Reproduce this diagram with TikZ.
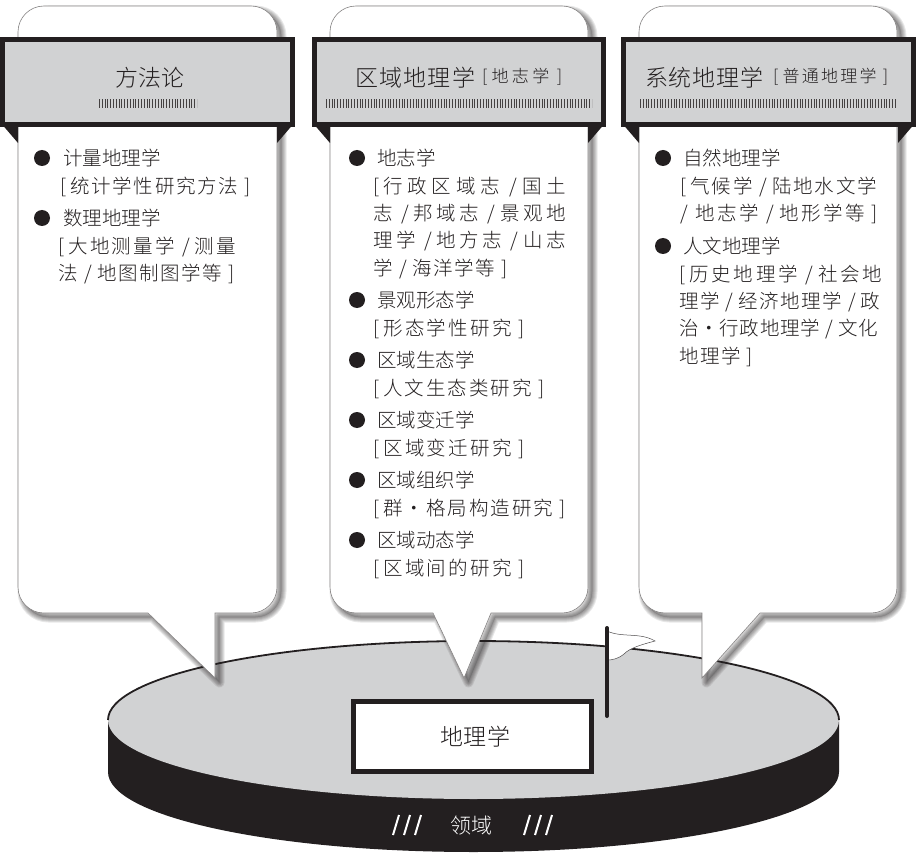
\documentclass[tikz,border=0pt]{standalone}
\usepackage{fontspec}
\setmainfont{Noto Sans CJK SC Light}
\newfontfamily\cjk{Noto Sans CJK SC Light}
\usetikzlibrary{calc}
\definecolor{ink}{HTML}{231F20}
\definecolor{panel}{HTML}{D1D2D3}
\newcommand{\jl}[2]{\makebox[#1pt][s]{\spaceskip=0pt plus 1fil\relax #2}}
\newcommand{\lbk}{[\hspace{4pt}}
\newcommand{\rbk}{\hspace{4pt}]}
\newcommand{\sepr}{\hspace{5pt}/\hspace{5pt}}
\tikzset{
 x=1pt,y=-1pt,
 bodytext/.style={font=\fontsize{19.5}{27.4}\selectfont\cjk,text=ink,inner sep=0pt,anchor=north west,align=left},
 titletext/.style={font=\fontsize{23}{28}\selectfont\cjk,text=ink,inner sep=0pt},
 subtext/.style={font=\fontsize{17}{20}\selectfont\cjk,text=ink,inner sep=0pt},
 bulletdot/.style={circle,fill=ink,inner sep=0pt,minimum size=16pt},
 callout/.style={fill=white,draw=ink!55,line width=.6pt},
 banner/.style={fill=panel,draw=ink,line width=5pt,miter limit=10},
 foldtip/.style={fill=ink,draw=none},
 ticks/.style={draw=ink!85,line width=9pt,dash pattern=on 1pt off 1.8pt,line cap=butt},
}
\newcommand{\calloutshape}[6]{% left,right,base1,tipx,base2,tipy
 (#1,32) arc[start angle=180,end angle=270,radius=26] -- (#2-26,6) arc[start angle=270,end angle=360,radius=26]
 -- (#2,587) arc[start angle=0,end angle=90,radius=26] -- (#5,613) -- (#4,#6) -- (#3,613)
 -- (#1+26,613) arc[start angle=90,end angle=180,radius=26] -- cycle}
\newcommand{\softshadow}[6]{%
 \fill[ink,opacity=.18,shift={(4.5,4.5)}] \calloutshape{#1}{#2}{#3}{#4}{#5}{#6};
 \foreach \w in {10,8,6,4,2}{
  \draw[ink,draw opacity=.10,line width=\w pt,line join=round,shift={(4.5,4.5)}] \calloutshape{#1}{#2}{#3}{#4}{#5}{#6};
 }}
\begin{document}
\begin{tikzpicture}
\useasboundingbox (0,0) rectangle (916,853);
\fill[white] (0,0) rectangle (916,853);
% disc
\fill[ink] (108,720) -- (108,772) arc[start angle=180,end angle=0,x radius=365.5,y radius=80] -- (839,720) -- cycle;
\fill[panel] (473.5,720) ellipse[x radius=365.5,y radius=79];
\draw[ink,line width=1.8pt] (108,720) arc[start angle=180,end angle=360,x radius=365.5,y radius=79];
% callouts
\softshadow{18}{277}{148}{215}{215}{678}
\softshadow{330}{588}{433}{464}{491}{678}
\softshadow{639}{897}{702}{702}{760}{678}
\draw[callout] \calloutshape{18}{277}{148}{215}{215}{678};
\draw[callout] \calloutshape{330}{588}{433}{464}{491}{678};
\draw[callout] \calloutshape{639}{897}{702}{702}{760}{678};
% banners
\foreach \l/\r in {0/295,312/606,621/916}{
 \fill[foldtip] (\l,122) -- (\l+18,143) -- (\l+18,122) -- cycle;
 \fill[foldtip] (\r,122) -- (\r-18,143) -- (\r-18,122) -- cycle;
 \draw[banner] (\l+2.5,39.5) rectangle (\r-2.5,124.5);
}
\node[titletext] (t1) at (149,78) {\jl{68}{方 法 论}};
\node[titletext,anchor=west] (t2) at (355,78) {\jl{120}{区 域 地 理 学}};
\node[subtext,anchor=west] (t2b) at (482,77) {\jl{80}{\lbk 地 志 学 \rbk}};
\node[titletext,anchor=west] (t3) at (645,78) {\jl{118}{系 统 地 理 学}};
\node[subtext,anchor=west] (t3b) at (773,77) {\jl{115}{\lbk 普 通 地 理 学 \rbk}};
\draw[ticks] (99,103.5) -- (197,103.5);
\draw[ticks] (326,103.5) -- (592,103.5);
\draw[ticks] (640,103.5) -- (897,103.5);
% column 1
\node[bulletdot] (b11) at (42,158) {};
\node[bodytext] (x11) at (60,149) {\hspace*{3pt}计量地理学\\\jl{190}{\lbk 统 计 学 性 研 究 方 法 \rbk}};
\node[bulletdot] (b12) at (42,218) {};
\node[bodytext] (x12) at (58,209) {\hspace*{5pt}数理地理学\\\jl{178}{\lbk 大 地 测 量 学 \sepr 测 量}\\\jl{176}{法 \sepr 地 图 制 图 学 等 \rbk}};
% column 2
\node[bulletdot] (b21) at (357,158) {};
\node[bodytext] (x21) at (373,149) {\hspace*{4pt}地志学\\\jl{193}{\lbk 行 政 区 域 志 \sepr 国 土}\\\jl{193}{志 \sepr 邦 域 志 \sepr 景 观 地}\\\jl{193}{理 学 \sepr 地 方 志 \sepr 山 志}\\\jl{134}{学 \sepr 海 洋 学 等 \rbk}};
\node[bulletdot] (b22) at (357,300) {};
\node[bodytext] (x22) at (373,291) {\hspace*{4pt}景观形态学\\\jl{151}{\lbk 形 态 学 性 研 究 \rbk}};
\node[bulletdot] (b23) at (357,360) {};
\node[bodytext] (x23) at (373,351) {\hspace*{4pt}区域生态学\\\jl{171}{\lbk 人 文 生 态 类 研 究 \rbk}};
\node[bulletdot] (b24) at (357,420) {};
\node[bodytext] (x24) at (373,411) {\hspace*{4pt}区域变迁学\\\jl{151}{\lbk 区 域 变 迁 研 究 \rbk}};
\node[bulletdot] (b25) at (357,480) {};
\node[bodytext] (x25) at (373,471) {\hspace*{4pt}区域组织学\\\jl{192}{\lbk 群 • 格 局 构 造 研 究 \rbk}};
\node[bulletdot] (b26) at (357,540) {};
\node[bodytext] (x26) at (373,531) {\hspace*{4pt}区域动态学\\\jl{151}{\lbk 区 域 间 的 研 究 \rbk}};
% column 3
\node[bulletdot] (b31) at (663,158) {};
\node[bodytext] (x31) at (680,149) {\hspace*{3pt}自然地理学\\\jl{197}{\lbk 气 候 学 \sepr 陆 地 水 文 学}\\\jl{197}{/\hspace{5pt} 地 志 学 \sepr 地 形 学 等 \rbk}};
\node[bulletdot] (b32) at (663,246) {};
\node[bodytext] (x32) at (679,237) {\hspace*{4pt}人文地理学\\\jl{203}{\lbk 历 史 地 理 学 \sepr 社 会 地}\\\jl{201}{理 学 \sepr 经 济 地 理 学 \sepr 政}\\\jl{199}{治 • 行 政 地 理 学 \sepr 文 化}\\\jl{73}{地 理 学 \rbk}};
% centre box
\node[draw=ink,fill=white,line width=5pt,minimum width=238pt,minimum height=70pt,inner sep=0pt,font=\fontsize{23}{26}\selectfont\cjk,text=ink] (core) at (472.5,736.5) {\hspace*{6pt}\jl{70}{地 理 学}};
% flag
\draw[fill=white,draw=ink!80,line width=.5pt] (607,631) .. controls (622,638) and (640,632) .. (655,641) .. controls (640,645) and (630,648) .. (624,654) .. controls (618,659) and (612,660) .. (607,660) -- cycle;
\draw[ink,line width=4pt,line cap=round] (607,628) -- (607,716);
% band label
\node[font=\fontsize{21}{24}\selectfont\cjk,text=white,inner sep=0pt] (band) at (471,826) {领域};
\foreach \x in {393,404,415,524,535,546}{
 \draw[white,line width=2pt] (\x,835) -- (\x+6,815);
}
\end{tikzpicture}
\end{document}
